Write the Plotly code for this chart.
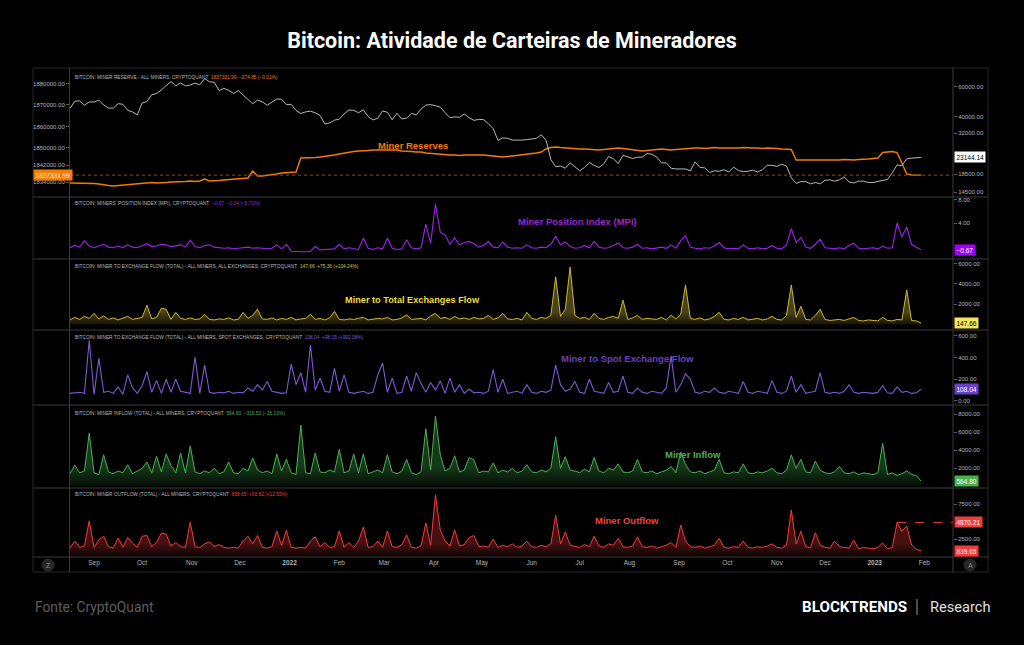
import math
import pandas as pd
import plotly.graph_objects as go
from plotly.subplots import make_subplots

# ---------------- data (3-day samples starting 2021-08-17) ----------------
start_date = "2021-08-17"
step = "3D"

btc_price_k = [44.7, 49.3, 49.5, 46.8, 48.8, 48.8, 50.0, 46.8, 45.0, 44.9,
               47.7, 47.3, 43.6, 42.7, 41.0, 48.1, 49.1, 53.8, 54.7, 57.3,
               60.9, 64.3, 60.7, 63.1, 60.6, 61.3, 62.9, 61.5, 66.9, 64.1,
               63.6, 56.9, 58.6, 57.1, 54.7, 56.9, 53.6, 50.6, 47.6, 50.1,
               48.9, 46.7, 48.9, 50.8, 50.6, 47.1, 47.3, 43.5, 41.8, 42.7,
               43.1, 42.2, 40.7, 36.3, 36.8, 38.2, 38.7, 41.6, 43.8, 43.6,
               42.2, 43.9, 40.1, 38.3, 39.2, 43.2, 42.5, 38.4, 41.9, 38.8,
               39.3, 41.8, 41.0, 44.3, 46.8, 47.1, 46.4, 45.5, 42.3, 39.5,
               39.9, 39.7, 41.5, 39.5, 38.1, 38.6, 38.5, 36.5, 34.1, 29.1,
               30.1, 29.9, 29.2, 29.1, 29.2, 29.4, 29.8, 29.9, 31.4, 29.1,
               22.5, 20.4, 20.6, 20.0, 21.5, 20.3, 19.3, 20.2, 21.6, 20.8,
               20.2, 21.2, 23.4, 22.7, 21.3, 23.8, 23.3, 22.8, 23.2, 23.2,
               24.4, 24.1, 23.3, 21.5, 21.5, 20.0, 19.8, 19.8, 19.8, 19.3,
               21.8, 20.2, 20.1, 18.9, 19.3, 19.2, 19.6, 19.0, 20.3, 19.4,
               19.1, 19.2, 19.5, 19.0, 19.6, 20.8, 20.8, 20.5, 21.1, 20.6,
               17.6, 16.3, 16.7, 16.7, 16.2, 16.5, 16.2, 17.0, 17.1, 16.8,
               17.1, 17.8, 16.6, 16.4, 16.8, 16.8, 16.5, 16.5, 16.7, 16.9,
               17.2, 18.8, 20.9, 20.7, 22.7, 22.9, 23.1, 23.14414]

miner_reserve = [1833670, 1833670, 1833440, 1833670, 1833670, 1833440, 1833210, 1832740, 1832510, 1832280,
                 1832510, 1832740, 1832980, 1833210, 1833210, 1833440, 1833670, 1833910, 1833670, 1833670,
                 1833910, 1834140, 1834140, 1834370, 1834370, 1834600, 1834370, 1834600, 1835530, 1834600,
                 1834600, 1834840, 1835070, 1835300, 1835530, 1835770, 1836000, 1836000, 1839260, 1836930,
                 1836930, 1837160, 1837400, 1837860, 1838330, 1838560, 1838790, 1838790, 1845300, 1845300,
                 1845530, 1845530, 1845770, 1846000, 1846230, 1846700, 1847160, 1847630, 1848090, 1848330,
                 1848560, 1848560, 1848790, 1849020, 1849020, 1849020, 1849020, 1848790, 1849020, 1848560,
                 1848560, 1848330, 1848090, 1848090, 1847630, 1847400, 1847160, 1846930, 1846700, 1846700,
                 1846700, 1846460, 1846700, 1846700, 1846930, 1846700, 1846700, 1846460, 1846230, 1845770,
                 1845770, 1846000, 1846230, 1846460, 1846700, 1846930, 1847160, 1847630, 1848090, 1849490,
                 1850190, 1850420, 1850190, 1849950, 1849950, 1849720, 1849490, 1849490, 1849260, 1849020,
                 1849020, 1849260, 1849490, 1849720, 1849950, 1849720, 1849490, 1849020, 1848790, 1848560,
                 1848790, 1849020, 1849260, 1849490, 1849260, 1849020, 1849260, 1849490, 1849720, 1849720,
                 1849950, 1849950, 1849720, 1849950, 1850190, 1849950, 1849950, 1849720, 1849950, 1849950,
                 1850190, 1849950, 1849950, 1849950, 1849720, 1849950, 1849950, 1849720, 1849490, 1849490,
                 1849260, 1844370, 1844370, 1844370, 1844140, 1844370, 1844370, 1844370, 1844140, 1844370,
                 1844370, 1844600, 1844370, 1844370, 1844600, 1844600, 1844840, 1845070, 1845300, 1847860,
                 1848090, 1848330, 1847860, 1843210, 1837860, 1837400, 1837400, 1837331.99]

mpi = [-0.3, 0.1, -0.2, 0.9, 0.0, -0.3, 0.0, 0.3, -0.2, -0.3,
       0.0, -0.3, 0.2, -0.2, -0.3, 0.1, 0.4, -0.1, 0.0, 0.3,
       0.2, -0.1, 0.1, 0.2, -0.2, 1.0, -0.1, -0.3, 0.1, 0.2,
       -0.2, -0.3, -0.4, -0.3, -0.5, -0.4, -0.3, -0.2, -0.4, -0.3,
       -0.4, -0.5, -0.4, 0.2, -0.5, 0.3, -0.9, -1.0, -1.0, -1.0,
       -0.9, -0.1, -0.7, -0.6, -0.6, -0.5, 0.3, -0.5, -0.3, -0.4,
       -0.6, 1.4, -0.4, -0.6, -0.3, -0.5, 1.4, -0.4, -0.6, -0.5,
       1.1, -0.3, -0.5, -0.3, 3.8, 0.5, 7.3, 2.4, 1.9, 0.3,
       1.4, 0.2, 0.6, 0.8, 0.4, -0.2, 0.1, 0.8, -0.2, -0.3,
       0.7, -0.2, -0.4, -0.3, -0.4, 0.2, -0.3, -0.4, -0.2, -0.3,
       0.3, 1.7, 0.2, 0.7, -0.1, -0.4, -0.3, 0.1, -0.3, 0.8,
       -0.2, -0.4, -0.3, 0.1, 0.5, -0.3, -0.4, -0.2, 0.3, -0.4,
       -0.3, -0.5, -0.4, -0.2, -0.4, 0.2, -0.4, 0.9, 1.8, -0.2,
       -0.4, -0.5, -0.3, -0.4, 0.0, 0.6, -0.3, -0.5, -0.4, -0.5,
       0.2, -0.4, -0.5, -0.3, -0.5, -0.4, 0.1, -0.4, -0.5, 0.2,
       3.0, 0.6, 1.5, -0.2, -0.4, 0.3, 1.2, -0.3, -0.4, -0.5,
       -0.3, -0.5, 0.1, 0.5, -0.4, -0.5, -0.4, -0.3, -0.5, 0.0,
       -0.4, -0.3, 4.0, 1.6, 3.3, 0.3, -0.2, -0.67]

total_exchange_flow = [450, 700, 500, 800, 600, 1100, 550, 850, 500, 650,
                       450, 600, 800, 500, 600, 700, 1900, 550, 700, 1600,
                       1500, 500, 1200, 600, 500, 650, 500, 550, 1000, 500,
                       450, 550, 500, 650, 450, 500, 1200, 600, 900, 1500,
                       550, 500, 650, 450, 600, 500, 700, 450, 550, 600,
                       1000, 500, 600, 450, 650, 1300, 500, 450, 550, 500,
                       600, 700, 450, 500, 600, 550, 700, 450, 500, 650,
                       950, 500, 550, 600, 450, 850, 1100, 600, 700, 500,
                       800, 550, 650, 500, 700, 550, 600, 900, 500, 650,
                       1100, 550, 500, 600, 450, 1200, 600, 500, 700, 600,
                       900, 4700, 800, 1500, 5650, 900, 600, 700, 500, 1100,
                       600, 500, 700, 800, 600, 2400, 500, 650, 900, 500,
                       600, 550, 500, 700, 450, 900, 550, 1000, 3900, 600,
                       500, 650, 450, 550, 800, 1200, 500, 450, 600, 500,
                       700, 450, 500, 600, 450, 550, 800, 500, 450, 900,
                       3900, 700, 1800, 500, 450, 900, 1500, 500, 400, 450,
                       500, 400, 550, 700, 400, 350, 450, 400, 350, 700,
                       400, 350, 500, 450, 3400, 400, 350, 147.66]

spot_exchange_flow = [70, 75, 80, 70, 560, 60, 395, 80, 90, 70,
                      130, 60, 240, 120, 70, 140, 270, 80, 190, 70,
                      200, 80, 200, 90, 80, 70, 405, 70, 330, 80,
                      70, 80, 75, 90, 70, 80, 75, 120, 90, 150,
                      100, 180, 90, 80, 70, 75, 340, 150, 260, 80,
                      515, 100, 210, 90, 80, 300, 90, 240, 80, 70,
                      80, 90, 70, 80, 240, 350, 80, 210, 70, 80,
                      230, 90, 260, 160, 80, 170, 100, 185, 70, 210,
                      80, 150, 70, 110, 75, 80, 70, 90, 290, 80,
                      200, 70, 80, 90, 70, 150, 80, 70, 90, 80,
                      100, 330, 150, 90, 110, 180, 80, 70, 200, 90,
                      80, 70, 170, 80, 90, 230, 80, 70, 120, 80,
                      70, 90, 80, 70, 120, 415, 80, 150, 250, 200,
                      80, 70, 90, 80, 120, 80, 70, 90, 80, 70,
                      180, 80, 70, 90, 80, 70, 190, 80, 70, 90,
                      230, 80, 150, 70, 80, 90, 260, 80, 70, 80,
                      70, 90, 150, 80, 70, 80, 75, 70, 80, 140,
                      75, 70, 130, 80, 90, 70, 75, 108.04]

miner_inflow = [1400, 2350, 1500, 1700, 5900, 1500, 1300, 3500, 1600, 1400,
                1700, 1500, 2400, 1400, 1700, 2000, 2700, 1500, 3350, 1600,
                3600, 2300, 1500, 3700, 1500, 4500, 1600, 1400, 1700, 1500,
                2000, 1400, 1600, 2700, 1500, 1400, 2000, 1700, 3150, 1800,
                1500, 1700, 1400, 3600, 1700, 3000, 1500, 1300, 6800, 1500,
                1400, 3700, 1600, 1500, 1800, 1600, 4100, 1500, 1700, 3600,
                1500, 3600, 1400, 1600, 1800, 1500, 3500, 1600, 1400, 1700,
                3000, 1500, 1300, 1600, 6400, 1800, 7800, 3500, 1700, 2000,
                3400, 1600, 1800, 3200, 2900, 1500, 1700, 1600, 2600, 1500,
                1800, 1600, 2000, 1500, 1700, 2400, 1600, 1500, 1800, 1600,
                2000, 5500, 2000, 3300, 1800, 1700, 1500, 1900, 1600, 3200,
                1700, 1500, 2000, 1800, 2500, 1600, 1500, 1700, 3000, 1600,
                1500, 1700, 1400, 1600, 1800, 2200, 1500, 3800, 2400, 1600,
                1500, 1700, 1400, 1600, 1800, 3000, 1500, 1400, 1600, 1500,
                2500, 1500, 1400, 1600, 1500, 1700, 2000, 1500, 1400, 1800,
                3500, 2000, 3000, 1600, 1500, 2800, 1800, 1500, 1400, 1600,
                2200, 1500, 1400, 1600, 1300, 1500, 1400, 1300, 1500, 4800,
                1300, 1500, 1200, 1400, 1700, 1300, 1200, 564.80]

miner_outflow = [1200, 2200, 1300, 1500, 5100, 1300, 2350, 2900, 1400, 1200,
                 2650, 1300, 2700, 1900, 1300, 2900, 3000, 1400, 2000, 3350,
                 3200, 1500, 2000, 1400, 1300, 4900, 1400, 1300, 1800, 2100,
                 1400, 1700, 1300, 1200, 1300, 1200, 2200, 2900, 1800, 3000,
                 1300, 1200, 1400, 3650, 1600, 3750, 1300, 1200, 1300, 1200,
                 2200, 2800, 1400, 2000, 1300, 1400, 3650, 1300, 2000, 1300,
                 2200, 4200, 1300, 1400, 2200, 1300, 3650, 1400, 1300, 1700,
                 3100, 1300, 1200, 1500, 4800, 1600, 8800, 3800, 2200, 1500,
                 3800, 1500, 1700, 2700, 3000, 1400, 1500, 1300, 2500, 1300,
                 1600, 1400, 1800, 1300, 1500, 2200, 1400, 1300, 1600, 1400,
                 1800, 5900, 1800, 3500, 1600, 1500, 1300, 1700, 1400, 2900,
                 1500, 1300, 1800, 1600, 2600, 1400, 1300, 1500, 2800, 1400,
                 1300, 1500, 1200, 1400, 1600, 2000, 1300, 4500, 2200, 1400,
                 1300, 1500, 1200, 1400, 1600, 2600, 1300, 1200, 1400, 1300,
                 2200, 1300, 1200, 1400, 1300, 1500, 1800, 1300, 1200, 1600,
                 6650, 1800, 3600, 1400, 1300, 3400, 1600, 1300, 1200, 2200,
                 1400, 1300, 1200, 2300, 1100, 1300, 1200, 1100, 1300, 1930,
                 1100, 1300, 4870.21, 3600, 4350, 1650, 1000, 839.65]

# axis ticks / labels
month_ticks = ["2021-09-01", "2021-10-01", "2021-11-01", "2021-12-01", "2022-01-01",
               "2022-02-01", "2022-03-01", "2022-04-01", "2022-05-01", "2022-06-01",
               "2022-07-01", "2022-08-01", "2022-09-01", "2022-10-01", "2022-11-01",
               "2022-12-01", "2023-01-01", "2023-02-01"]
month_labels = ["Sep", "Oct", "Nov", "Dec", "<b>2022</b>", "Feb", "Mar", "Apr", "May", "Jun",
                "Jul", "Aug", "Sep", "Oct", "Nov", "Dec", "<b>2023</b>", "Feb"]
reserve_ticks = [1834000, 1842000, 1850000, 1860000, 1870000, 1880000]
price_ticks = [14500, 18500, 32000, 40000, 60000]
mpi_ticks = [4, 8]
total_ticks = [2000, 4000, 6000]
spot_ticks = [0, 200, 400, 600]
inflow_ticks = [2000, 4000, 6000, 8000]
outflow_ticks = [2500, 7500]

# ---------------- layout helpers ----------------
W, H = 1024, 645
L, R, T, B = 70, 953, 70, 557
FONT = "Liberation Sans"
TICKC = "#b2b5be"
SEP = "#3a3a3a"


def px(x):
    return (x - L) / (R - L)


def py(y):
    return (B - y) / (B - T)


def dates_for(v):
    return pd.date_range(start_date, periods=len(v), freq=step)


panel_px = [(70, 197), (197, 259), (259, 330), (330, 405), (405, 488), (488, 557)]

fig = make_subplots(rows=6, cols=1, shared_xaxes=True, vertical_spacing=0,
                    specs=[[{"secondary_y": True}]] + [[{}] for _ in range(5)])

ORANGE = "#f57c00"
GRAY = "#b8b8b8"
MPI_C = "#a020f0"
YEL = "#cdb832"
SPOT_C = "#7e57d6"
GREEN = "#4caf50"
RED = "#f23b3b"

fig.add_trace(go.Scatter(x=dates_for(miner_reserve), y=miner_reserve, mode="lines",
                         line=dict(color=ORANGE, width=1.4)), row=1, col=1, secondary_y=False)
fig.add_trace(go.Scatter(x=dates_for(btc_price_k), y=[p * 1000 for p in btc_price_k], mode="lines",
                         line=dict(color=GRAY, width=1)), row=1, col=1, secondary_y=True)
fig.add_trace(go.Scatter(x=dates_for(mpi), y=mpi, mode="lines",
                         line=dict(color=MPI_C, width=1.1)), row=2, col=1)
fig.add_trace(go.Scatter(x=dates_for(total_exchange_flow), y=total_exchange_flow, mode="lines",
                         line=dict(color=YEL, width=1), fill="tozeroy",
                         fillgradient=dict(type="vertical", start=0, stop=1200,
                                           colorscale=[[0, "#15130a"], [1, "#4a4218"]])),
              row=3, col=1)
fig.add_trace(go.Scatter(x=dates_for(spot_exchange_flow), y=spot_exchange_flow, mode="lines",
                         line=dict(color=SPOT_C, width=1.1)), row=4, col=1)
fig.add_trace(go.Scatter(x=dates_for(miner_inflow), y=miner_inflow, mode="lines",
                         line=dict(color=GREEN, width=1), fill="tozeroy",
                         fillgradient=dict(type="vertical", start=0, stop=2200,
                                           colorscale=[[0, "#050d06"], [1, "#153a1a"]])),
              row=5, col=1)
fig.add_trace(go.Scatter(x=dates_for(miner_outflow), y=miner_outflow, mode="lines",
                         line=dict(color=RED, width=1), fill="tozeroy",
                         fillgradient=dict(type="vertical", start=0, stop=2000,
                                           colorscale=[[0, "#0d0303"], [1, "#481111"]])),
              row=6, col=1)

x_range = ["2021-08-17", "2023-02-18 21:00"]
fig.update_xaxes(range=x_range, domain=[0, 1], showgrid=False, zeroline=False, showline=False,
                 showticklabels=False, ticks="")
fig.update_layout(xaxis6=dict(showticklabels=True, tickvals=month_ticks, ticktext=month_labels,
                              tickfont=dict(family=FONT, size=6.5, color=TICKC)))

tick_common = dict(showgrid=False, zeroline=False, showline=False, ticks="outside",
                   ticklen=3, tickcolor="#5a5a5a", tickformat=".2f",
                   tickfont=dict(family=FONT, size=6, color=TICKC))


def dom(i):
    t, b = panel_px[i]
    return [py(b), py(t)]


fig.update_layout(
    yaxis=dict(domain=dom(0), range=[1827163, 1886231], side="left", tickvals=reserve_ticks, **tick_common),
    yaxis2=dict(type="log", range=[4.1327, 4.8754], side="right", tickvals=price_ticks, **tick_common),
    yaxis3=dict(domain=dom(1), range=[-2.26, 8.52], side="right", tickvals=mpi_ticks, **tick_common),
    yaxis4=dict(domain=dom(2), range=[-542, 6452], side="right", tickvals=total_ticks, **tick_common),
    yaxis5=dict(domain=dom(3), range=[-37, 654], side="right", tickvals=spot_ticks, **tick_common),
    yaxis6=dict(domain=dom(4), range=[-189, 9033], side="right", tickvals=inflow_ticks, **tick_common),
    yaxis7=dict(domain=dom(5), range=[-71, 9786], side="right", tickvals=outflow_ticks, **tick_common),
)

shapes = []
# panel separators
for yy in [197, 259, 330, 405, 488, 557]:
    shapes.append(dict(type="line", xref="paper", yref="paper", x0=px(33), x1=px(988),
                       y0=py(yy), y1=py(yy), line=dict(color=SEP, width=1)))
for yy in [68, 572]:
    shapes.append(dict(type="line", xref="paper", yref="paper", x0=px(33), x1=px(988),
                       y0=py(yy), y1=py(yy), line=dict(color="#262626", width=1)))
for xx, col in [(69.5, SEP), (953, SEP), (988, "#2a2a2a"), (33, "#262626")]:
    shapes.append(dict(type="line", xref="paper", yref="paper", x0=px(xx), x1=px(xx),
                       y0=py(572), y1=py(68), line=dict(color=col, width=1)))
# current reserve price line
shapes.append(dict(type="line", xref="paper", yref="y", x0=0, x1=1,
                   y0=miner_reserve[-1], y1=miner_reserve[-1],
                   line=dict(color="#9a4d05", width=1, dash="dot")))
# outflow recent high marker
recent = miner_outflow[-8:]
peak_i = len(miner_outflow) - 8 + recent.index(max(recent))
out_dates = dates_for(miner_outflow)
shapes.append(dict(type="line", xref="x6", yref="y7", x0=out_dates[peak_i], x1=x_range[1],
                   y0=miner_outflow[peak_i], y1=miner_outflow[peak_i],
                   line=dict(color=RED, width=1, dash="dash")))
# Z / A buttons
for cx, cy in [(48, 565), (970, 565)]:
    shapes.append(dict(type="circle", xref="paper", yref="paper",
                       x0=px(cx - 6.5), x1=px(cx + 6.5), y0=py(cy + 6.5), y1=py(cy - 6.5),
                       fillcolor="#262626", line=dict(width=0)))
# footer separator
shapes.append(dict(type="line", xref="paper", yref="paper", x0=px(917), x1=px(917),
                   y0=py(615), y1=py(599), line=dict(color="#9a9a9a", width=1)))

ann = []


def header(text, vals, color, ypix):
    ann.append(dict(text=f"{text}&nbsp;&nbsp;<span style='color:{color}'>{vals}</span>",
                    xref="paper", yref="paper", x=px(73), y=py(ypix), xanchor="left", yanchor="middle",
                    showarrow=False, font=dict(family=FONT, size=4.8, color="#b8b8b8")))


header("BITCOIN: MINER RESERVE - ALL MINERS, CRYPTOQUANT",
       "1837331.99&nbsp;&nbsp;−274.85 (−0.01%)", ORANGE, 77)
header("BITCOIN: MINERS' POSITION INDEX (MPI), CRYPTOQUANT",
       "−0.67&nbsp;&nbsp;−0.04 (−5.71%)", MPI_C, 204)
header("BITCOIN: MINER TO EXCHANGE FLOW (TOTAL) - ALL MINERS, ALL EXCHANGES, CRYPTOQUANT",
       "147.66&nbsp;&nbsp;+75.36 (+104.24%)", "#d8c83a", 266)
header("BITCOIN: MINER TO EXCHANGE FLOW (TOTAL) - ALL MINERS, SPOT EXCHANGES, CRYPTOQUANT",
       "108.04&nbsp;&nbsp;+98.15 (+992.08%)", SPOT_C, 337)
header("BITCOIN: MINER INFLOW (TOTAL) - ALL MINERS, CRYPTOQUANT",
       "564.80&nbsp;&nbsp;−319.50 (−36.13%)", GREEN, 413)
header("BITCOIN: MINER OUTFLOW (TOTAL) - ALL MINERS, CRYPTOQUANT",
       "839.65&nbsp;&nbsp;+93.62 (+12.55%)", RED, 494)


def label(text, xpix, ypix, color, size=9.5):
    ann.append(dict(text=f"<b>{text}</b>", xref="paper", yref="paper", x=px(xpix), y=py(ypix),
                    showarrow=False, xanchor="center", yanchor="middle",
                    font=dict(family=FONT, size=size, color=color)))


label("Miner Reserves", 413, 145, ORANGE)
label("Miner Position Index (MPI)", 577, 222, "#9b27c9")
label("Miner to Total Exchanges Flow", 412, 300, "#f0dc3a", 9.2)
label("Miner to Spot Exchange Flow", 627, 358, "#6a3fc4")
label("Miner Inflow", 693, 454, GREEN)
label("Miner Outflow", 627, 520, "#f44336")


def value_box(text, yref, yval, bg, fg, xpix=953.5):
    ann.append(dict(text=text, xref="paper", yref=yref, x=px(xpix), y=yval,
                    xanchor="left", yanchor="middle", showarrow=False, bgcolor=bg,
                    borderpad=1.5, font=dict(family=FONT, size=6.5, color=fg)))


value_box("23144.14", "y2", math.log10(btc_price_k[-1] * 1000), "#ffffff", "#000000")
value_box("−0.67", "y3", mpi[-1], "#a100ff", "#ffffff")
value_box("147.66", "y4", total_exchange_flow[-1], "#f5e55e", "#000000")
value_box("108.04", "y5", spot_exchange_flow[-1], "#6b40c9", "#ffffff")
value_box("564.80", "y6", miner_inflow[-1], "#4caf50", "#ffffff")
value_box("4870.21", "y7", miner_outflow[peak_i], "#f23b3b", "#ffffff")
value_box("839.65", "y7", miner_outflow[-1], "#f23b3b", "#ffffff")
value_box("1837331.99", "y", miner_reserve[-1], ORANGE, "#ffffff", xpix=33)

# Z / A letters
for cx, ch in [(48, "Z"), (970, "A")]:
    ann.append(dict(text=ch, xref="paper", yref="paper", x=px(cx), y=py(565), showarrow=False,
                    xanchor="center", yanchor="middle", font=dict(family=FONT, size=7, color="#8a8a8a")))

# footer
ann.append(dict(text="Fonte: CryptoQuant", xref="paper", yref="paper", x=px(33), y=py(607),
                xanchor="left", yanchor="middle", showarrow=False,
                font=dict(family="Roboto", size=13.8, color="#5e5e5e")))
ann.append(dict(text="<b>BLOCKTRENDS</b>", xref="paper", yref="paper", x=px(909), y=py(607),
                xanchor="right", yanchor="middle", showarrow=False,
                font=dict(family="Roboto", size=15.2, color="#ffffff")))
ann.append(dict(text="Research", xref="paper", yref="paper", x=px(928), y=py(607),
                xanchor="left", yanchor="middle", showarrow=False,
                font=dict(family="Roboto", size=14.6, color="#e0e0e0")))

fig.update_layout(
    width=W, height=H,
    margin=dict(l=L, r=W - R, t=T, b=H - B),
    paper_bgcolor="#000000", plot_bgcolor="#000000",
    showlegend=False, hovermode=False,
    title=dict(text="<b>Bitcoin: Atividade de Carteiras de Mineradores</b>", x=0.5, xanchor="center",
               y=1 - 40 / H, yanchor="middle", font=dict(family="Roboto", size=21.5, color="#ffffff")),
    shapes=shapes, annotations=ann,
)

fig.write_html("out.html")
